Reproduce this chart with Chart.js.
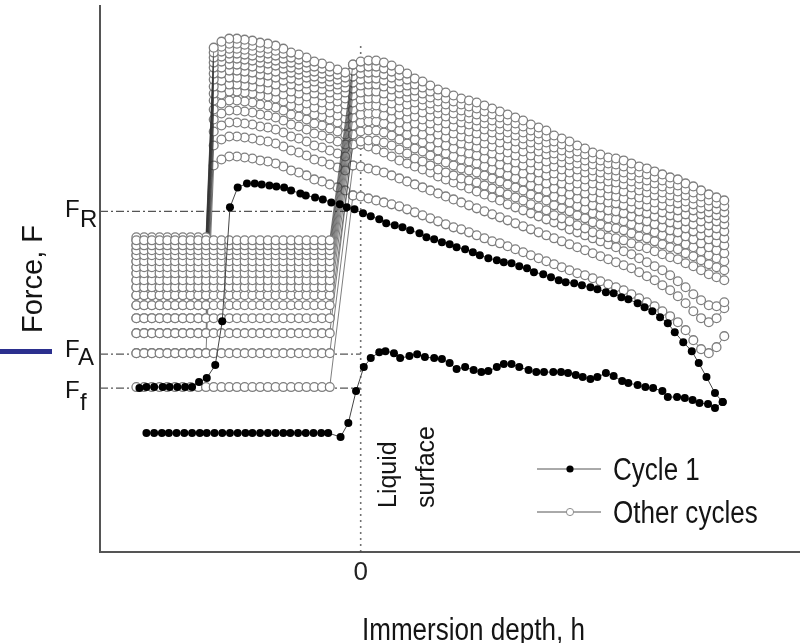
<!DOCTYPE html>
<html>
<head>
<meta charset="utf-8">
<script src="https://cdn.jsdelivr.net/npm/chart.js@4.4.1/dist/chart.umd.min.js"></script>
<style>
  html, body { margin: 0; padding: 0; background: #fff; }
  canvas { display: block; }
</style>
</head>
<body>
<canvas id="forceChart" width="805" height="643"></canvas>
<script>
// Axis ranges (h in sampling steps, 0 = liquid surface; F in arbitrary units)
const hMin = -33.7, hMax = 56.7;
const fMin = 0, fMax = 54.7;
const xTicks = [0];

// Sampling positions used by the "other cycles"
const hLeft = [-29, -28, -27, -26, -25, -24, -23, -22, -21, -20, -19, -18, -17, -16, -15, -14, -13, -12, -11, -10, -9, -8, -7, -6, -5, -4];
const hBand = [-1, 0, 1, 2, 3, 4, 5, 6, 7, 8, 9, 10, 11, 12, 13, 14, 15, 16, 17, 18, 19, 20, 21, 22, 23, 24, 25, 26, 27, 28, 29, 30, 31, 32, 33, 34, 35, 36, 37, 38, 39, 40, 41, 42, 43, 44, 45, 46, 47];
const hUpper = [-19, -18, -17, -16, -15, -14, -13, -12, -11, -10, -9, -8, -7, -6, -5, -4, -3, -2];
const hTail = [-20, -21, -22, -23, -24, -25, -26, -27, -28, -29];

// Cycle 1 (filled dots) - advancing then receding, [h, F]
const cycle1Adv = [
  [-27.7, 11.9], [-26.7, 11.9], [-25.7, 11.9], [-24.8, 11.9], [-23.8, 11.9], [-22.8, 11.9], [-21.8, 11.9],
  [-20.8, 11.9], [-19.9, 11.9], [-18.9, 11.9], [-17.9, 11.9], [-16.9, 11.9], [-15.9, 11.9], [-14.9, 11.9],
  [-14.0, 11.9], [-13.0, 11.9], [-12.0, 11.9], [-11.0, 11.9], [-10.0, 11.9], [-9.1, 11.9], [-8.1, 11.9],
  [-7.1, 11.9], [-6.1, 11.9], [-5.1, 11.9], [-4.2, 11.9],
  [-2.6, 11.5], [-1.6, 12.9], [-0.6, 16.1], [0.4, 18.5], [1.3, 19.4], [2.4, 20.0], [3.2, 20.1], [4.3, 19.9],
  [5.1, 19.4], [6.3, 19.6], [7.3, 19.8], [8.3, 19.5], [9.5, 19.4], [10.5, 19.3], [11.5, 18.9], [12.4, 18.3],
  [13.5, 18.5], [14.6, 18.2], [15.6, 18.0], [16.5, 18.1], [17.6, 18.5], [18.5, 18.8], [19.5, 18.8], [20.5, 18.5],
  [21.7, 18.2], [22.7, 18.0], [23.7, 18.0], [24.9, 18.0], [25.9, 18.0], [26.8, 17.9], [27.8, 17.7], [28.7, 17.5],
  [29.7, 17.3], [30.6, 17.5], [31.7, 17.9], [32.7, 17.6], [33.8, 17.1], [34.6, 16.9], [35.8, 16.7], [36.8, 16.5],
  [37.8, 16.4], [39.0, 16.1], [39.7, 15.5], [40.9, 15.5], [41.9, 15.4], [42.9, 15.2], [43.8, 14.9], [44.9, 14.8],
  [45.8, 14.4], [46.8, 15.0]
];
const cycle1Rec = [
  [46.8, 15.0], [45.8, 15.9], [44.7, 17.5], [43.7, 18.9], [42.8, 20.1], [41.7, 21.0], [40.6, 22.0], [39.7, 22.9],
  [38.7, 23.5], [37.7, 24.1], [36.7, 24.5], [35.8, 24.9], [34.6, 25.3], [33.7, 25.5], [32.7, 25.9], [31.7, 26.0],
  [30.6, 26.3], [29.7, 26.5], [28.6, 26.7], [27.6, 26.9], [26.5, 27.0], [25.6, 27.2], [24.6, 27.5], [23.6, 27.8],
  [22.4, 28.0], [21.5, 28.4], [20.5, 28.6], [19.5, 28.9], [18.5, 29.0], [17.6, 29.2], [16.5, 29.4], [15.4, 29.7],
  [14.5, 30.0], [13.5, 30.3], [12.4, 30.5], [11.5, 30.8], [10.5, 31.0], [9.5, 31.3], [8.5, 31.5], [7.6, 31.9],
  [6.4, 32.2], [5.4, 32.5], [4.4, 32.7], [3.3, 32.9], [2.4, 33.3], [1.3, 33.6], [0.3, 33.9], [-0.8, 34.3],
  [-1.8, 34.5], [-2.7, 34.8], [-3.8, 35.0], [-4.9, 35.3], [-5.9, 35.5], [-7.1, 35.7], [-7.8, 35.9], [-9.0, 36.2],
  [-9.9, 36.5], [-10.9, 36.6], [-11.8, 36.7], [-12.8, 36.8], [-13.7, 36.9], [-14.7, 36.9], [-15.9, 36.5],
  [-16.9, 34.5], [-17.9, 23.1], [-18.8, 18.7], [-19.9, 17.4], [-20.9, 17.0], [-21.8, 16.5], [-22.7, 16.5],
  [-23.7, 16.5], [-24.7, 16.5], [-25.6, 16.5], [-26.7, 16.5], [-27.7, 16.5], [-28.6, 16.4]
];

// Other cycles: level of the flat row in air (advancing) and of the receding tail
const advLevel = [16.5, 19.9, 21.9, 23.4, 24.7, 25.7, 26.5, 27.2, 27.9, 28.5, 29.1, 29.7, 30.2, 30.7, 31.2];
const tailLevel = [19.9, 21.9, 23.4, 24.7, 25.7, 26.5, 27.2, 27.9, 28.5, 29.1, 29.7, 30.2, 30.7, 31.2, 31.5];

// Immersed part: upper edge of the band, and the three lowest separate curves
const bandTop = [48.8, 49.1, 49.2, 49.2, 49.0, 48.7, 48.3, 47.9, 47.4, 47.1, 46.7, 46.3, 46.0, 45.7, 45.4, 45.2, 45.0,
  44.7, 44.4, 44.1, 43.8, 43.5, 43.2, 42.8, 42.5, 42.2, 41.7, 41.4, 41.1, 40.7, 40.4, 40.0, 39.8, 39.5, 39.4, 39.2,
  38.9, 38.6, 38.4, 38.1, 37.8, 37.5, 37.3, 36.9, 36.6, 36.2, 35.8, 35.5, 35.2];
const bandCycle2 = [35.7, 35.6, 35.4, 35.2, 35.0, 34.8, 34.6, 34.3, 34.0, 33.7, 33.4, 33.1, 32.8, 32.5, 32.3, 32.0,
  31.7, 31.4, 31.1, 30.9, 30.6, 30.3, 30.0, 29.7, 29.4, 29.1, 28.8, 28.5, 28.2, 27.9, 27.7, 27.4, 27.1, 26.8, 26.5,
  26.2, 25.8, 25.4, 25.0, 24.6, 24.1, 23.6, 23.0, 22.2, 21.2, 20.3, 19.9, 20.5, 21.6];
const bandCycle3 = [38.7, 38.6, 38.4, 38.2, 38.0, 37.7, 37.4, 37.1, 36.8, 36.5, 36.2, 35.9, 35.6, 35.3, 35.0, 34.7,
  34.4, 34.1, 33.8, 33.5, 33.2, 32.9, 32.6, 32.3, 32.0, 31.7, 31.4, 31.1, 30.8, 30.5, 30.2, 29.9, 29.6, 29.3, 29.0,
  28.7, 28.4, 28.0, 27.6, 27.2, 26.7, 26.2, 25.6, 24.9, 24.1, 23.4, 23.0, 23.4, 24.4];
const bandCycle4 = [41.0, 40.8, 40.6, 40.3, 40.0, 39.6, 39.2, 38.9, 38.6, 38.3, 38.0, 37.6, 37.3, 37.0, 36.7, 36.4,
  36.1, 35.8, 35.5, 35.2, 34.8, 34.5, 34.2, 33.9, 33.6, 33.3, 33.0, 32.7, 32.3, 32.0, 31.7, 31.4, 31.1, 30.8, 30.5,
  30.1, 29.8, 29.4, 29.0, 28.6, 28.2, 27.7, 27.1, 26.5, 25.8, 25.2, 24.7, 24.6, 25.0];
// how far each of the remaining (dense) cycles sits below the band's upper edge
const bandDrop = [8.0, 7.0, 6.1, 5.3, 4.5, 3.8, 3.1, 2.4, 1.8, 1.2, 0.6, 0];

// Receding part left of the surface: upper edge and drop of each cycle below it
const upperTop = [50.5, 51.1, 51.4, 51.4, 51.3, 51.2, 51.0, 50.9, 50.7, 50.4, 50.0, 49.8, 49.5, 49.1, 48.9, 48.6, 48.3, 48.0];
const upperDrop = [11.8, 9.8, 8.4, 7.2, 6.2, 5.3, 4.6, 3.9, 3.2, 2.6, 2.0, 1.5, 1.0, 0.5, 0];

// Reference force levels F_R, F_A, F_f and liquid surface line
const refNames = ["R", "A", "f"];
const refLevels = [34.1, 19.8, 16.4];
const refEnds = [-1, 0, 0];
const surfaceTop = 50.9;

// ---- datasets ----
const datasets = [];
const bandLow = [bandCycle2, bandCycle3, bandCycle4];

for (let i = 0; i < advLevel.length; i++) {
  const band = i < bandLow.length ? bandLow[i] : bandTop.map(v => v - bandDrop[i - bandLow.length]);
  const upper = upperTop.map(v => v - upperDrop[i]);

  const adv = hLeft.map(h => ({ x: h, y: advLevel[i] }))
    .concat(hBand.map((h, k) => ({ x: h, y: band[k] })));

  const rec = [{ x: hBand[0], y: band[0] }];
  for (let k = hUpper.length - 1; k >= 0; k--) rec.push({ x: hUpper[k], y: upper[k] });
  hTail.forEach(h => rec.push({ x: h, y: tailLevel[i] }));

  [adv, rec].forEach(pts => datasets.push({
    data: pts,
    borderColor: "rgba(50,50,50,0.7)",
    borderWidth: 0.9,
    pointRadius: 4.4,
    pointBorderWidth: 1.3,
    pointBorderColor: "#7e7e7e",
    pointBackgroundColor: "#fff",
    order: 100 - i
  }));
}

[cycle1Adv, cycle1Rec].forEach(pts => datasets.push({
  data: pts.map(p => ({ x: p[0], y: p[1] })),
  borderColor: "#444",
  borderWidth: 1,
  pointRadius: 4,
  pointBorderWidth: 0,
  pointBackgroundColor: "#000",
  order: 0
}));

refLevels.forEach((lv, i) => datasets.push({
  data: [{ x: hMin, y: lv }, { x: refEnds[i], y: lv }],
  borderColor: "#555",
  borderWidth: 1.2,
  borderDash: [8, 3, 2, 3],
  pointRadius: 0,
  order: 300
}));

datasets.push({
  data: [{ x: 0, y: fMin }, { x: 0, y: surfaceTop }],
  borderColor: "#444",
  borderWidth: 1.6,
  borderDash: [1.5, 4.5],
  pointRadius: 0,
  order: 300
});

// ---- text, legend and annotations ----
const FONT = '"Liberation Sans", Arial, sans-serif';

function squeezed(ctx, text, x, y, size, sx) {
  ctx.save();
  ctx.translate(x, y);
  ctx.scale(sx, 1);
  ctx.font = size + "px " + FONT;
  ctx.fillText(text, 0, 0);
  ctx.restore();
}

function rotated(ctx, text, x, y, size, align) {
  ctx.save();
  ctx.translate(x, y);
  ctx.rotate(-Math.PI / 2);
  ctx.textAlign = align;
  ctx.font = size + "px " + FONT;
  ctx.fillText(text, 0, 0);
  ctx.restore();
}

const annotations = {
  id: "annotations",
  afterDraw(chart) {
    const { ctx } = chart;
    const ys = chart.scales.y;
    ctx.save();
    ctx.fillStyle = "#141414";
    ctx.textBaseline = "alphabetic";
    ctx.textAlign = "left";

    // axis titles
    squeezed(ctx, "Immersion depth, h", 362, 640, 31, 0.84);
    rotated(ctx, "Force, F", 42, 279, 29, "center");

    // F_R, F_A, F_f
    const mainOff = [5.5, 3, 10];
    const subOff = [15.5, 11, 22];
    const subX = [80, 78, 80];
    refLevels.forEach((lv, i) => {
      const py = ys.getPixelForValue(lv);
      ctx.font = "24px " + FONT;
      ctx.fillText("F", 65, py + mainOff[i]);
      ctx.fillText(refNames[i], subX[i], py + subOff[i]);
    });

    // liquid surface label
    rotated(ctx, "Liquid", 396, 508, 25, "left");
    rotated(ctx, "surface", 434, 508, 25, "left");

    // legend
    const rows = [469, 512];
    rows.forEach((ly, i) => {
      ctx.strokeStyle = "#555";
      ctx.lineWidth = 1;
      ctx.beginPath();
      ctx.moveTo(537, ly);
      ctx.lineTo(601, ly);
      ctx.stroke();
      ctx.beginPath();
      ctx.arc(570, ly, 3.6, 0, Math.PI * 2);
      if (i === 0) {
        ctx.fillStyle = "#000";
        ctx.fill();
      } else {
        ctx.fillStyle = "#fff";
        ctx.fill();
        ctx.strokeStyle = "#8e8e8e";
        ctx.stroke();
      }
    });
    ctx.fillStyle = "#141414";
    squeezed(ctx, "Cycle 1", 613, 480, 31, 0.84);
    squeezed(ctx, "Other cycles", 613, 523, 31, 0.84);

    // slide marker at left edge
    ctx.fillStyle = "#2b2f8e";
    ctx.fillRect(0, 349, 52, 5);
    ctx.restore();
  }
};

new Chart(document.getElementById("forceChart"), {
  type: "line",
  data: { datasets },
  options: {
    responsive: false,
    animation: false,
    events: [],
    parsing: false,
    layout: { padding: { left: 100, top: 5, right: 0, bottom: 50 } },
    plugins: { legend: { display: false }, tooltip: { enabled: false } },
    elements: { line: { tension: 0 } },
    scales: {
      x: {
        type: "linear",
        min: hMin,
        max: hMax,
        grid: { display: false, drawTicks: false },
        border: { display: true, color: "#555", width: 2 },
        ticks: { color: "#222", padding: 5, font: { size: 26, family: FONT }, maxRotation: 0, autoSkip: false },
        afterBuildTicks: s => { s.ticks = xTicks.map(v => ({ value: v })); }
      },
      y: {
        type: "linear",
        min: fMin,
        max: fMax,
        grid: { display: false, drawTicks: false },
        border: { display: true, color: "#555", width: 2 },
        ticks: { display: false }
      }
    }
  },
  plugins: [annotations]
});
</script>
</body>
</html>
